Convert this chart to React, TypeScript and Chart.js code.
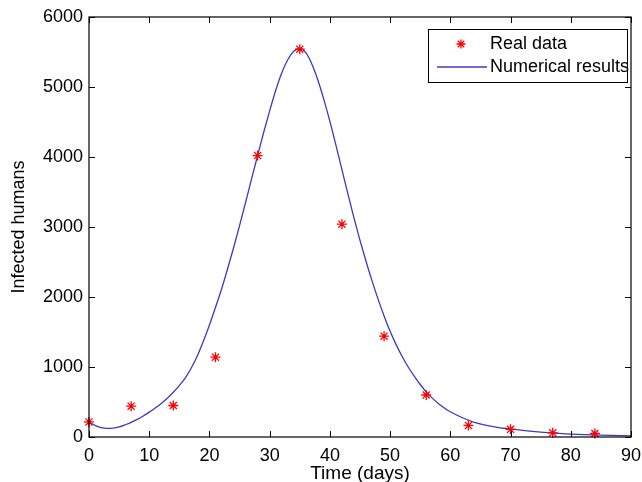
import React, { useEffect, useRef } from 'react';
import { Chart, registerables } from 'chart.js';

Chart.register(...registerables);

// Real data (observations every 7 days)
const realDays = [0, 7, 14, 21, 28, 35, 42, 49, 56, 63, 70, 77, 84];
const realInfected = [215, 440, 450, 1140, 4020, 5540, 3040, 1440, 600, 165, 110, 60, 50];

// Numerical results
const modelDays = [
  0, 1, 2, 3, 4, 5, 6, 7, 8, 9, 10, 11, 12, 13, 14, 15, 16, 17, 18, 19,
  20, 21, 22, 23, 24, 25, 26, 27, 28, 29, 30, 31, 32, 33, 34, 35, 36, 37, 38, 39,
  40, 41, 42, 43, 44, 45, 46, 47, 48, 49, 50, 51, 52, 53, 54, 55, 56, 57, 58, 59,
  60, 62, 64, 66, 68, 70, 72, 75, 78, 80, 85, 90,
];
const modelInfected = [
  220, 165, 135, 124, 128, 145, 175, 210, 252, 300, 355, 415, 480, 555, 640, 735, 845, 990, 1160, 1370,
  1600, 1850, 2110, 2400, 2700, 3020, 3350, 3690, 4020, 4350, 4660, 4950, 5200, 5390, 5510, 5550, 5490, 5330, 5100, 4820,
  4510, 4170, 3820, 3470, 3130, 2810, 2510, 2230, 1970, 1730, 1510, 1320, 1150, 1000, 870, 750, 645, 555, 480, 415,
  360, 275, 210, 165, 135, 115, 95, 70, 52, 42, 26, 16,
];

const xTicks = [0, 10, 20, 30, 40, 50, 60, 70, 80, 90];
const yTicks = [0, 1000, 2000, 3000, 4000, 5000, 6000];

const seriesNames = ['Real data', 'Numerical results'];
const xTitle = 'Time (days)';
const yTitle = 'Infected humans';

const FONT = "'Liberation Sans', Arial, sans-serif";
const LINE_COLOR = '#3a3ac4';
const STAR_COLOR = '#ff0000';

function drawStar(ctx: CanvasRenderingContext2D, x: number, y: number, r: number) {
  ctx.beginPath();
  ctx.moveTo(x - r, y); ctx.lineTo(x + r, y);
  ctx.moveTo(x, y - r); ctx.lineTo(x, y + r);
  const d = r * 0.72;
  ctx.moveTo(x - d, y - d); ctx.lineTo(x + d, y + d);
  ctx.moveTo(x - d, y + d); ctx.lineTo(x + d, y - d);
  ctx.stroke();
}

const frameLegendPlugin = {
  id: 'frameLegend',
  afterDraw(chart: any) {
    const { ctx, chartArea: a } = chart;
    const xs = chart.scales.x;
    const ys = chart.scales.y;
    ctx.save();
    ctx.strokeStyle = '#000';
    ctx.lineWidth = 1.2;
    ctx.strokeRect(a.left, a.top, a.right - a.left, a.bottom - a.top);
    const tl = 6;
    ctx.lineWidth = 1;
    ctx.beginPath();
    xs.ticks.forEach((t: any) => {
      const px = Math.round(xs.getPixelForValue(t.value)) + 0.5;
      ctx.moveTo(px, a.bottom); ctx.lineTo(px, a.bottom - tl);
      ctx.moveTo(px, a.top); ctx.lineTo(px, a.top + tl);
    });
    ys.ticks.forEach((t: any) => {
      const py = Math.round(ys.getPixelForValue(t.value)) + 0.5;
      ctx.moveTo(a.left, py); ctx.lineTo(a.left + tl, py);
      ctx.moveTo(a.right, py); ctx.lineTo(a.right - tl, py);
    });
    ctx.stroke();

    // Legend
    const w = 199, h = 53;
    const lx = a.right - 4 - w;
    const ly = a.top + 12;
    ctx.fillStyle = '#fff';
    ctx.fillRect(lx, ly, w, h);
    ctx.strokeStyle = '#000';
    ctx.lineWidth = 1;
    ctx.strokeRect(lx + 0.5, ly + 0.5, w, h);
    const row1 = ly + 15;
    const row2 = ly + 38;
    ctx.strokeStyle = STAR_COLOR;
    ctx.lineWidth = 1.3;
    drawStar(ctx, lx + 33, row1, 4.5);
    ctx.strokeStyle = LINE_COLOR;
    ctx.lineWidth = 1.3;
    ctx.beginPath();
    ctx.moveTo(lx + 9, row2); ctx.lineTo(lx + 59, row2);
    ctx.stroke();
    ctx.fillStyle = '#000';
    ctx.font = `18px ${FONT}`;
    ctx.textBaseline = 'middle';
    ctx.textAlign = 'left';
    ctx.fillText(seriesNames[0], lx + 62, row1);
    ctx.fillText(seriesNames[1], lx + 62, row2);
    ctx.restore();
  },
};

export default function App() {
  const ref = useRef<HTMLCanvasElement | null>(null);
  useEffect(() => {
    if (!ref.current) return;
    const chart = new Chart(ref.current, {
      type: 'scatter',
      data: {
        datasets: [
          {
            label: seriesNames[1],
            data: modelDays.map((d, i) => ({ x: d, y: modelInfected[i] })),
            showLine: true,
            borderColor: LINE_COLOR,
            borderWidth: 1.3,
            pointRadius: 0,
            cubicInterpolationMode: 'monotone',
            fill: false,
            order: 2,
          },
          {
            label: seriesNames[0],
            data: realDays.map((d, i) => ({ x: d, y: realInfected[i] })),
            showLine: false,
            pointStyle: 'star',
            pointRadius: 5,
            pointBorderColor: STAR_COLOR,
            pointBackgroundColor: STAR_COLOR,
            pointBorderWidth: 1.3,
            clip: false,
            order: 1,
          } as any,
        ],
      },
      options: {
        animation: false,
        responsive: false,
        layout: { padding: { top: 17, right: 11, left: 0, bottom: 0 } },
        plugins: { legend: { display: false }, tooltip: { enabled: false } },
        scales: {
          x: {
            type: 'linear',
            min: 0,
            max: 90,
            afterBuildTicks: (s: any) => { s.ticks = xTicks.map((v) => ({ value: v })); },
            afterFit: (s: any) => { s.height = 45; s.paddingLeft = 0; s.paddingRight = 0; },
            grid: { display: false, drawTicks: false },
            border: { display: false },
            ticks: { color: '#000', font: { family: FONT, size: 18 }, padding: 8, maxRotation: 0, autoSkip: false },
            title: { display: true, text: xTitle, color: '#000', font: { family: FONT, size: 19 }, padding: { top: 0, bottom: -3 } },
          },
          y: {
            type: 'linear',
            min: 0,
            max: 6000,
            afterBuildTicks: (s: any) => { s.ticks = yTicks.map((v) => ({ value: v })); },
            afterFit: (s: any) => { s.width = 89; s.paddingTop = 0; s.paddingBottom = 0; },
            grid: { display: false, drawTicks: false },
            border: { display: false },
            ticks: { color: '#000', font: { family: FONT, size: 18 }, padding: 6, autoSkip: false, callback: (v: any) => String(v) },
            title: { display: true, text: yTitle, color: '#000', font: { family: FONT, size: 18 }, padding: { top: 8, bottom: 0 } },
          },
        },
      },
      plugins: [frameLegendPlugin],
    });
    return () => chart.destroy();
  }, []);
  return (
    <div style={{ position: 'fixed', left: 0, top: 0, width: 642, height: 482, background: '#fff' }}>
      <canvas ref={ref} width={642} height={482} style={{ width: 642, height: 482, display: 'block' }} />
    </div>
  );
}
